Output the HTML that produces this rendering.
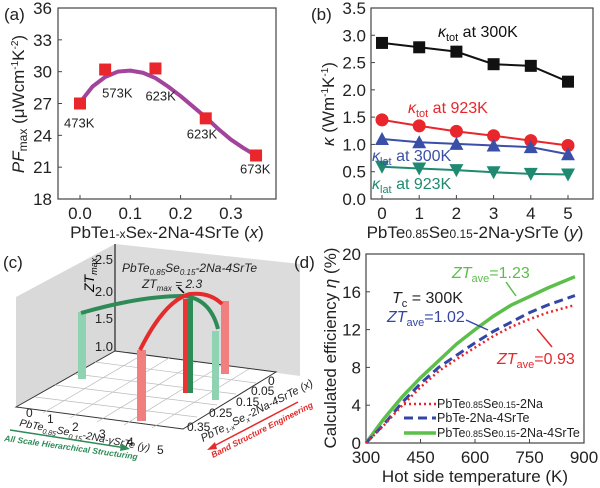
<!DOCTYPE html>
<html><head><meta charset="utf-8"><style>
body{margin:0;background:#fff;}
svg{display:block;font-family:"Liberation Sans",sans-serif;}
</style></head><body>
<svg id="fig" width="600" height="488" viewBox="0 0 600 488">
<g id="pa"></g>
<g id="pb"></g>
<g id="pc">
  <polygon points="16,297 115,244 115,351 16,407" fill="#d9d9d9"/>
  <polygon points="115,244 300,264 300,376 115,351" fill="#dcdcdc"/>
  <polygon points="16,407 115,351 276,372 183,429" fill="#fff" stroke="#333" stroke-width="1"/>
  <g stroke="#bbb" stroke-width="0.7">
    <line x1="43" y1="413" x2="142" y2="355"/><line x1="70" y1="418" x2="169" y2="358"/><line x1="97" y1="422" x2="196" y2="362"/><line x1="124" y1="425" x2="222" y2="365"/><line x1="152" y1="428" x2="249" y2="369"/>
    <line x1="35" y1="397" x2="197" y2="417"/><line x1="55" y1="385" x2="217" y2="405"/><line x1="75" y1="374" x2="236" y2="394"/><line x1="95" y1="362" x2="256" y2="383"/>
  </g>
  <line x1="115" y1="244" x2="115" y2="351" stroke="#000"/>
  <g font-size="13" fill="#222" text-anchor="end">
    <text x="113" y="264">2.5</text><text x="113" y="296">2.0</text><text x="113" y="323">1.5</text><text x="113" y="351">1.0</text>
  </g>
  <text x="0" y="0" font-size="14" font-style="italic" transform="translate(94,292) rotate(-90)">ZT<tspan font-size="9" dy="3">max</tspan></text>
  <rect x="78" y="312" width="8" height="67" fill="#8fd3b3"/>
  <rect x="137" y="350" width="9" height="71" fill="#f08080"/>
  <rect x="183" y="299" width="5" height="94" fill="#e33"/>
  <rect x="188" y="299" width="5" height="94" fill="#2e8b57"/>
  <rect x="221" y="301" width="8" height="73" fill="#f08080"/>
  <rect x="212" y="331" width="7" height="69" fill="#8fd3b3"/>
  <path d="M81,313 Q140,296 183,296 Q210,298 218,329" fill="none" stroke="#2e8b57" stroke-width="4"/>
  <path d="M140,350 Q165,300 190,294 Q210,292 222,304" fill="none" stroke="#e52b2b" stroke-width="4"/>
  <text x="122" y="272" font-size="12" font-style="italic" fill="#222">PbTe<tspan font-size="8" dy="3">0.85</tspan><tspan dy="-3">Se</tspan><tspan font-size="8" dy="3">0.15</tspan><tspan dy="-3">-2Na-4SrTe</tspan></text>
  <text x="142" y="288" font-size="12" font-style="italic" fill="#222">ZT<tspan font-size="8" dy="3">max</tspan><tspan dy="-3"> = 2.3</tspan></text>
  <line x1="178" y1="287" x2="184" y2="293" stroke="#000" stroke-width="1.5"/>
  <g font-size="12" fill="#222">
    <text x="26" y="417">0</text><text x="47" y="423">1</text><text x="72" y="431">2</text><text x="99" y="438">3</text><text x="127" y="446">4</text><text x="157" y="454">5</text>
  </g>
  <text font-size="10.5" font-style="italic" fill="#222" transform="translate(19,426) rotate(11)">PbTe<tspan font-size="7" dy="3">0.85</tspan><tspan dy="-3">Se</tspan><tspan font-size="7" dy="3">0.15</tspan><tspan dy="-3">-2Na-ySrTe (y)</tspan></text>
  <line x1="10" y1="430" x2="126" y2="448" stroke="#2e8b57" stroke-width="1.5"/>
  <polygon points="130,449 121,443 120,451" fill="#2e8b57"/>
  <text font-size="8.5" font-weight="bold" font-style="italic" fill="#2e8b57" transform="translate(4,441) rotate(8)">All Scale Hierarchical Structuring</text>
  <g font-size="12" fill="#222">
    <text x="268" y="385">0</text><text x="251" y="395">0.05</text><text x="236" y="406">0.15</text><text x="209" y="417">0.25</text><text x="187" y="431">0.35</text>
  </g>
  <text font-size="11" font-style="italic" fill="#222" transform="translate(203,442) rotate(-27)">PbTe<tspan font-size="7" dy="3">1-x</tspan><tspan dy="-3">Se</tspan><tspan font-size="7" dy="3">x</tspan><tspan dy="-3">-2Na-4SrTe (x)</tspan></text>
  <line x1="298" y1="402" x2="212" y2="447" stroke="#e52b2b" stroke-width="1.5"/>
  <polygon points="207,450 215,442 217,449" fill="#e52b2b"/>
  <text font-size="8.5" font-weight="bold" font-style="italic" fill="#e52b2b" transform="translate(213,458) rotate(-27)">Band Structure Engineering</text>
  <text x="3" y="268" font-size="17" fill="#222">(c)</text>
</g>
<g id="pd"></g>
</svg>
<script>
const NS="http://www.w3.org/2000/svg";
function mk(p,tag,at,txt){const e=document.createElementNS(NS,tag);for(const k in at)e.setAttribute(k,at[k]);if(txt!==undefined)e.textContent=txt;p.appendChild(e);return e;}

// ---- panel a data
const aX=[0,0.05,0.15,0.25,0.35];
const aY=[27,30.2,30.3,25.6,22.1];
const aLabels=["473K","573K","623K","623K","673K"];
const aFitX=[0,0.025,0.05,0.075,0.1,0.125,0.15,0.175,0.2,0.225,0.25,0.275,0.3,0.325,0.35];
const aFitY=[27.1,28.6,29.5,30.0,30.1,29.9,29.4,28.6,27.7,26.7,25.7,24.6,23.6,22.8,22.1];
const aYTicks=[18,21,24,27,30,33,36];
const aXTicks=[0,0.1,0.2,0.3];

// ---- panel b data
const bX=[0,1,2,3,4,5];
const bTot300=[2.86,2.78,2.70,2.47,2.44,2.15];
const bTot923=[1.45,1.34,1.24,1.16,1.07,0.98];
const bLat300=[1.10,1.04,1.01,0.98,0.95,0.82];
const bLat923=[0.59,0.56,0.53,0.49,0.46,0.45];
const bYTicks=[0,0.5,1,1.5,2,2.5,3,3.5];

// ---- panel d data
const dT=[300,350,400,450,500,550,600,650,700,750,800,875];
const dGreen=[0,2.6,4.9,6.9,8.7,10.5,12.0,13.4,14.6,15.5,16.4,17.6];
const dBlue=[0,2.0,4.3,6.3,8.0,9.3,10.6,11.8,12.8,13.8,14.6,15.6];
const dRed=[0,1.9,4.0,5.9,7.6,8.9,10.1,11.3,12.3,13.1,13.8,14.6];
const dXTicks=[300,450,600,750,900];
const dYTicks=[0,4,8,12,16,20];

// ---- panel a
(function(){
const g=document.getElementById('pa');
const sx=v=>80+v*503, sy=v=>199-(v-18)*(191/18);
mk(g,'rect',{x:58,y:8,width:218,height:191,fill:'none',stroke:'#444','stroke-width':1.2});
aYTicks.forEach(t=>{mk(g,'line',{x1:58,y1:sy(t),x2:62,y2:sy(t),stroke:'#444'});
 const e=mk(g,'text',{x:52,y:sy(t)+6,'font-size':17,'text-anchor':'end',fill:'#222'},String(t));
 
 });
aXTicks.forEach(t=>{mk(g,'line',{x1:sx(t),y1:199,x2:sx(t),y2:195,stroke:'#444'});
 const e=mk(g,'text',{x:sx(t),y:219,'font-size':17,'text-anchor':'middle',fill:'#222'},t.toFixed(1));
 
 });
const fit=mk(g,'polyline',{points:aFitX.map((x,i)=>sx(x)+','+sy(aFitY[i])).join(' '),fill:'none',stroke:'#a3449c','stroke-width':4,'stroke-linejoin':'round'});


const lblOff=[[-16,24],[-3,28],[-10,32],[-19,20],[-16,18]];
aX.forEach((x,i)=>{const r=mk(g,'rect',{x:sx(x)-6,y:sy(aY[i])-6,width:12,height:12,fill:'#e8262b'});
 
 
 const t=mk(g,'text',{x:sx(x)+lblOff[i][0],y:sy(aY[i])+lblOff[i][1],'font-size':13,fill:'#222'},aLabels[i]);
 
 });
const yt=mk(g,'text',{transform:'translate(24,104) rotate(-90)','font-size':17,'text-anchor':'middle',fill:'#222'});
yt.innerHTML='<tspan font-style="italic">PF</tspan><tspan font-size="12" dy="3">max</tspan><tspan dy="-3"> (μWcm</tspan><tspan font-size="10" dy="-6">-1</tspan><tspan dy="6">K</tspan><tspan font-size="10" dy="-6">-2</tspan><tspan dy="6">)</tspan>';


const xt=mk(g,'text',{x:167,y:238,'font-size':17,'text-anchor':'middle',fill:'#222'});
xt.innerHTML='PbTe<tspan font-size="12" dy="0">1-x</tspan>Se<tspan font-size="12">x</tspan>-2Na-4SrTe (<tspan font-style="italic">x</tspan>)';


const pl=mk(g,'text',{x:4,y:20,'font-size':17,fill:'#222'},'(a)');


})();

// ---- panel b
(function(){
const g=document.getElementById('pb');
const sx=v=>382+v*37.2, sy=v=>199-v*(191/3.5);
mk(g,'rect',{x:371,y:8,width:222,height:191,fill:'none',stroke:'#444','stroke-width':1.2});
bYTicks.forEach(t=>{mk(g,'line',{x1:371,y1:sy(t),x2:375,y2:sy(t),stroke:'#444'});
 const e=mk(g,'text',{x:366,y:sy(t)+6,'font-size':17,'text-anchor':'end',fill:'#222'},t.toFixed(1));
 
 });
bX.forEach(t=>{mk(g,'line',{x1:sx(t),y1:199,x2:sx(t),y2:195,stroke:'#444'});
 const e=mk(g,'text',{x:sx(t),y:219,'font-size':17,'text-anchor':'middle',fill:'#222'},String(t));
 
 });
const series=[[bTot300,'#111','sq'],[bTot923,'#e8262b','ci'],[bLat300,'#3a4fa8','up'],[bLat923,'#1f8a70','dn']];
series.forEach(([vals,col,m])=>{
 const l=mk(g,'polyline',{points:bX.map((x,i)=>sx(x)+','+sy(vals[i])).join(' '),fill:'none',stroke:col,'stroke-width':2});
 
 
 bX.forEach((x,i)=>{const cx=sx(x),cy=sy(vals[i]);let e;
  if(m==='sq')e=mk(g,'rect',{x:cx-6,y:cy-6,width:12,height:12,fill:col});
  else if(m==='ci')e=mk(g,'circle',{cx:cx,cy:cy,r:6.5,fill:col});
  else if(m==='up')e=mk(g,'polygon',{points:`${cx-7},${cy+6} ${cx+7},${cy+6} ${cx},${cy-7}`,fill:col});
  else e=mk(g,'polygon',{points:`${cx-7},${cy-6} ${cx+7},${cy-6} ${cx},${cy+7}`,fill:col});
  
  });
});
const labs=[[438,37,'#111','tot','300K'],[408,113,'#e8262b','tot','923K'],[372,161,'#3a4fa8','lat','300K'],[372,189,'#1f8a70','lat','923K']];
labs.forEach(([x,y,c,s,t])=>{const e=mk(g,'text',{x:x,y:y,'font-size':16,fill:c});
 e.innerHTML='<tspan font-style="italic">κ</tspan><tspan font-size="11" dy="4">'+s+'</tspan><tspan dy="-4"> at '+t+'</tspan>';
 
 });
const yt=mk(g,'text',{transform:'translate(334,104) rotate(-90)','font-size':17,'text-anchor':'middle',fill:'#222'});
yt.innerHTML='<tspan font-style="italic">κ</tspan> (Wm<tspan font-size="10" dy="-6">-1</tspan><tspan dy="6">K</tspan><tspan font-size="10" dy="-6">-1</tspan><tspan dy="6">)</tspan>';


const xt=mk(g,'text',{x:475,y:238,'font-size':17,'text-anchor':'middle',fill:'#222'});
xt.innerHTML='PbTe<tspan font-size="12">0.85</tspan>Se<tspan font-size="12">0.15</tspan>-2Na-ySrTe (<tspan font-style="italic">y</tspan>)';


const pl=mk(g,'text',{x:311,y:20,'font-size':17,fill:'#222'},'(b)');


})();

// ---- panel d
(function(){
const g=document.getElementById('pd');
const sx=v=>366+(v-300)*(218/600), sy=v=>443-v*(189/20);
mk(g,'rect',{x:366,y:254,width:218,height:189,fill:'none',stroke:'#444','stroke-width':1.2});
dYTicks.forEach(t=>{mk(g,'line',{x1:366,y1:sy(t),x2:370,y2:sy(t),stroke:'#444'});
 const e=mk(g,'text',{x:361,y:sy(t)+6,'font-size':17,'text-anchor':'end',fill:'#222'},String(t));
 
 });
dXTicks.forEach(t=>{mk(g,'line',{x1:sx(t),y1:443,x2:sx(t),y2:439,stroke:'#444'});
 const e=mk(g,'text',{x:sx(t),y:463,'font-size':17,'text-anchor':'middle',fill:'#222'},String(t));
 
 });
const pts=v=>dT.map((t,i)=>sx(t)+','+sy(v[i])).join(' ');
const g1=mk(g,'polyline',{points:pts(dGreen),fill:'none',stroke:'#5bbf4a','stroke-width':3.5});


const b1=mk(g,'polyline',{points:pts(dBlue),fill:'none',stroke:'#3346a6','stroke-width':3,'stroke-dasharray':'9,5'});


const r1=mk(g,'polyline',{points:pts(dRed),fill:'none',stroke:'#e8262b','stroke-width':2.5,'stroke-dasharray':'2,3'});


const leg=[[404,'#e8262b','2,3',2.5,'PbTe<tspan font-size="9">0.85</tspan>Se<tspan font-size="9">0.15</tspan>-2Na'],[418,'#3346a6','9,5',3,'PbTe-2Na-4SrTe'],[433,'#5bbf4a','',3.5,'PbTe<tspan font-size="9">0.85</tspan>Se<tspan font-size="9">0.15</tspan>-2Na-4SrTe']];
leg.forEach(([y,c,d,w,txt])=>{const l=mk(g,'line',{x1:404,y1:y,x2:436,y2:y,stroke:c,'stroke-width':w,'stroke-dasharray':d});
 
 
 const t=mk(g,'text',{x:437,y:y+4,'font-size':12.5,fill:'#222'});t.innerHTML=txt;
 
 });
const ann=[[452,278,'#5bbf4a','1.23'],[387,322,'#3346a6','1.02'],[497,364,'#e8262b','0.93']];
ann.forEach(([x,y,c,v])=>{const t=mk(g,'text',{x:x,y:y,'font-size':16,fill:c});
 t.innerHTML='<tspan font-style="italic">ZT</tspan><tspan font-size="11" dy="4">ave</tspan><tspan dy="-4">='+v+'</tspan>';
 
 });
mk(g,'line',{x1:506,y1:282,x2:516,y2:296,stroke:'#5bbf4a','stroke-width':1.5});
mk(g,'line',{x1:466,y1:320,x2:488,y2:330,stroke:'#3346a6','stroke-width':1.5});
mk(g,'line',{x1:552,y1:347,x2:537,y2:329,stroke:'#e8262b','stroke-width':1.5});
const tc=mk(g,'text',{x:392,y:303,'font-size':16,fill:'#222'});
tc.innerHTML='<tspan font-style="italic">T</tspan><tspan font-size="11" dy="4">c</tspan><tspan dy="-4"> = 300K</tspan>';


const yt=mk(g,'text',{transform:'translate(336,348) rotate(-90)','font-size':17,'text-anchor':'middle',fill:'#222'});
yt.innerHTML='Calculated efficiency <tspan font-style="italic">η</tspan> (%)';


const xt=mk(g,'text',{x:475,y:482,'font-size':17,'text-anchor':'middle',fill:'#222'},'Hot side temperature (K)');


const pl=mk(g,'text',{x:294,y:268,'font-size':17,fill:'#222'},'(d)');


})();
</script>
</body></html>
